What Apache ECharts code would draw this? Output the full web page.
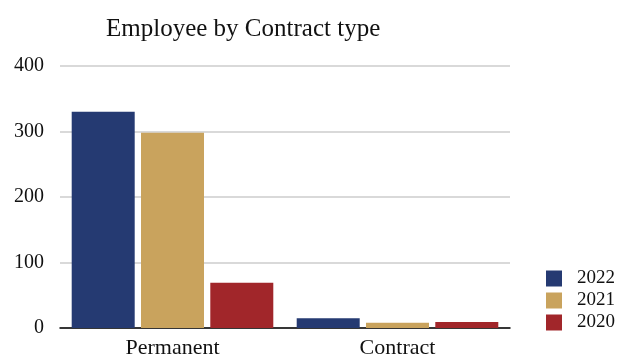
<!DOCTYPE html>
<html><head><meta charset="utf-8">
<script src="https://cdn.jsdelivr.net/npm/echarts@6/dist/echarts.min.js"></script>
<style>html,body{margin:0;padding:0;background:#fff}#c{width:622px;height:356px}</style>
</head><body><div id="c"></div>
<script>
const categories = ['Permanent', 'Contract'];
const seriesNames = ['2022', '2021', '2020'];
const values2022 = [330, 15];
const values2021 = [298, 8];
const values2020 = [69, 9];
const colors = ['#253a72', '#c9a35d', '#a1262a'];
const yTicks = { min: 0, max: 400, interval: 100 };

const font = 'Liberation Serif';
const chart = echarts.init(document.getElementById('c'));
const data = [values2022, values2021, values2020];
chart.setOption({
  animation: false,
  title: { text: 'Employee by Contract type', left: 101, top: 12,
    textStyle: { fontFamily: font, fontSize: 25, fontWeight: 'normal', color: '#111' } },
  legend: { orient: 'vertical', left: 541, top: 264, itemWidth: 16, itemHeight: 16, itemGap: 3,
    data: seriesNames, icon: 'rect',
    textStyle: { fontFamily: font, fontSize: 19, lineHeight: 16, color: '#111', padding: [0,0,0,10] } },
  grid: { left: 60, right: 112, top: 66, bottom: 28, containLabel: false, outerBoundsMode: 'none' },
  xAxis: { type: 'category', data: categories,
    axisLine: { lineStyle: { color: '#000', width: 1.5 } }, axisTick: { show: false },
    axisLabel: { fontFamily: font, fontSize: 22, color: '#111', margin: 9 } },
  yAxis: { type: 'value', min: yTicks.min, max: yTicks.max, interval: yTicks.interval,
    axisLabel: { fontFamily: font, fontSize: 20, color: '#111', margin: 16 },
    splitLine: { lineStyle: { color: '#cccccc', width: 1.5 } } },
  series: seriesNames.map((n, i) => ({ name: n, type: 'bar', data: data[i], barWidth: 63, barGap: '10%',
    itemStyle: { color: colors[i] } }))
});
</script></body></html>
